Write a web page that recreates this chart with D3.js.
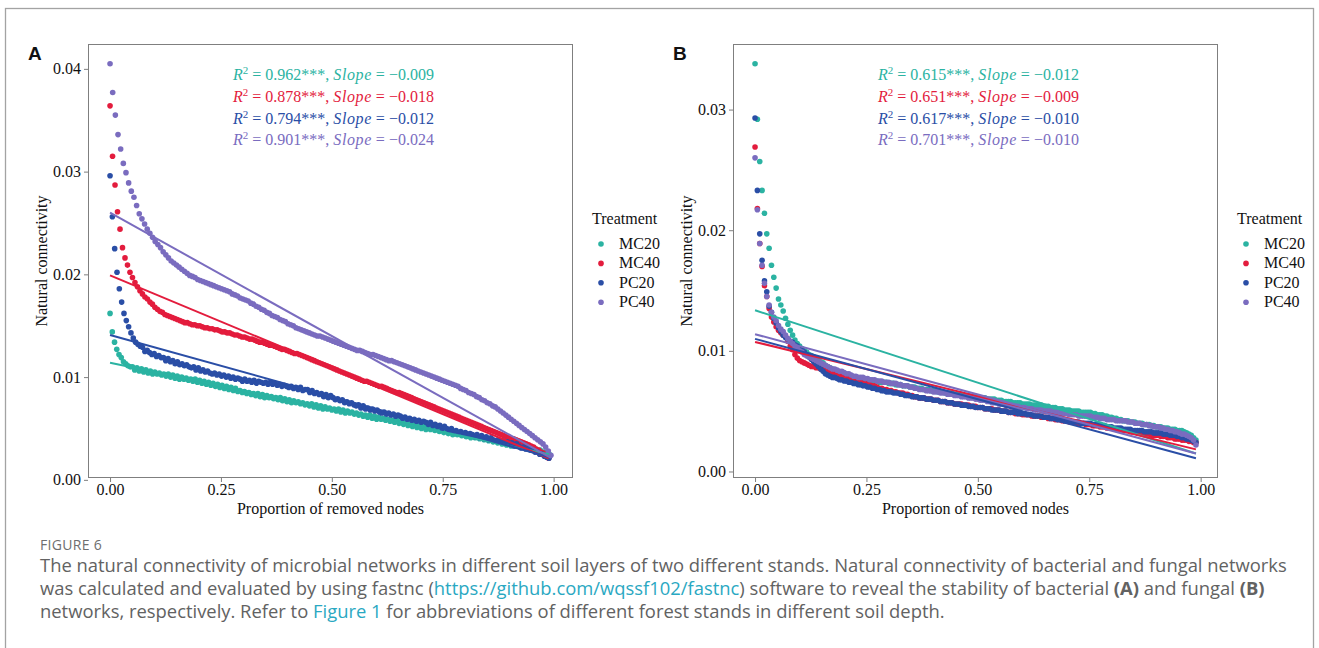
<!DOCTYPE html>
<html>
<head>
<meta charset="utf-8">
<script src="https://cdn.jsdelivr.net/npm/d3@7"></script>
<style>
  body { margin: 0; background: #fff; }
  svg { display: block; }
</style>
</head>
<body>
<svg id="fig" width="1319" height="648"></svg>
<script>
// ---------- data ----------
const treatments = ["MC20", "MC40", "PC20", "PC40"];
const seriesColors = ["#2bb3a2", "#e31c3d", "#2a4ea6", "#7a6cbf"];
const xTicks = [0, 0.25, 0.5, 0.75, 1];
const yTicksA = [0, 0.01, 0.02, 0.03, 0.04];
const yTicksB = [0, 0.01, 0.02, 0.03];

// Panel A (bacterial networks): total node count per network and
// natural connectivity after removing i nodes (i = 0, 1, 2, ...)
const nodesA = [198, 178, 191, 167];
const connA_MC20 = [
  .0162,.0144,.0134,.0127,.0122,.0119,.0115,.0113,.0111,.0110,
  .0110,.0107,.0109,.0106,.0108,.0105,.0107,.0104,.0106,.0103,
  .0105,.0103,.0104,.0102,.0103,.0101,.0103,.0100,.0102,.0099,
  .0101,.0098,.0100,.0098,.0099,.0097,.0098,.0096,.0098,.0095,
  .0097,.0094,.0096,.0093,.0095,.0092,.0094,.0091,.0093,.0090,
  .0092,.0089,.0091,.0088,.0090,.0087,.0089,.0086,.0087,.0085,
  .0086,.0084,.0085,.0083,.0084,.0082,.0084,.0081,.0083,.0080,
  .0082,.0080,.0081,.0079,.0080,.0078,.0080,.0077,.0079,.0076,
  .0078,.0075,.0077,.0075,.0076,.0074,.0075,.0073,.0074,.0072,
  .0074,.0071,.0073,.0070,.0072,.0069,.0071,.0069,.0070,.0068,
  .0069,.0067,.0069,.0066,.0068,.0065,.0067,.0065,.0066,.0064,
  .0065,.0063,.0064,.0062,.0063,.0061,.0063,.0060,.0062,.0059,
  .0061,.0059,.0060,.0058,.0059,.0057,.0058,.0056,.0058,.0055,
  .0057,.0054,.0056,.0053,.0055,.0052,.0054,.0051,.0053,.0050,
  .0052,.0049,.0051,.0049,.0050,.0048,.0049,.0047,.0048,.0046,
  .0048,.0045,.0047,.0044,.0046,.0044,.0045,.0043,.0045,.0042,
  .0044,.0041,.0043,.0041,.0042,.0040,.0041,.0039,.0040,.0038,
  .0039,.0037,.0038,.0036,.0037,.0035,.0037,.0034,.0036,.0033,
  .0035,.0033,.0034,.0032,.0033,.0031,.0032,.0030,.0031,.0029,
  .0030,.0028,.0029,.0027,.0027,.0026,.0025
];
const connA_MC40 = [
  .0364,.0315,.0287,.0261,.0244,.0226,.0216,.0209,.0202,.0197,
  .0192,.0188,.0184,.0181,.0178,.0176,.0173,.0171,.0168,.0166,
  .0164,.0163,.0161,.0160,.0159,.0158,.0157,.0156,.0155,.0154,
  .0153,.0153,.0152,.0151,.0151,.0150,.0150,.0149,.0148,.0148,
  .0147,.0147,.0146,.0146,.0145,.0144,.0144,.0143,.0143,.0142,
  .0141,.0141,.0140,.0139,.0139,.0138,.0137,.0137,.0136,.0135,
  .0134,.0134,.0133,.0132,.0131,.0131,.0130,.0129,.0128,.0127,
  .0127,.0126,.0125,.0124,.0123,.0123,.0122,.0121,.0120,.0119,
  .0118,.0117,.0116,.0115,.0114,.0113,.0112,.0111,.0110,.0109,
  .0108,.0107,.0106,.0105,.0104,.0103,.0102,.0101,.0100,.0099,
  .0098,.0097,.0096,.0096,.0095,.0094,.0093,.0092,.0091,.0091,
  .0090,.0089,.0088,.0087,.0086,.0085,.0085,.0084,.0083,.0082,
  .0081,.0080,.0079,.0078,.0077,.0076,.0075,.0074,.0073,.0072,
  .0071,.0070,.0069,.0068,.0067,.0066,.0065,.0064,.0063,.0062,
  .0061,.0060,.0059,.0058,.0057,.0056,.0055,.0054,.0053,.0052,
  .0051,.0050,.0049,.0048,.0047,.0046,.0045,.0044,.0043,.0042,
  .0041,.0040,.0040,.0039,.0038,.0037,.0036,.0035,.0034,.0033,
  .0032,.0030,.0029,.0027,.0026,.0024,.0021
];
const connA_PC20 = [
  .0296,.0256,.0225,.0202,.0186,.0173,.0162,.0155,.0149,.0143,
  .0138,.0134,.0132,.0130,.0129,.0125,.0126,.0124,.0122,.0123,
  .0120,.0121,.0119,.0119,.0116,.0118,.0115,.0116,.0113,.0115,
  .0112,.0113,.0111,.0112,.0110,.0109,.0110,.0107,.0109,.0106,
  .0107,.0105,.0106,.0104,.0103,.0104,.0102,.0103,.0101,.0102,
  .0100,.0101,.0099,.0100,.0098,.0099,.0098,.0096,.0098,.0096,
  .0097,.0095,.0097,.0094,.0096,.0095,.0094,.0095,.0093,.0095,
  .0093,.0094,.0092,.0093,.0091,.0092,.0091,.0090,.0091,.0089,
  .0090,.0088,.0090,.0087,.0088,.0088,.0085,.0087,.0084,.0085,
  .0083,.0084,.0081,.0083,.0080,.0082,.0080,.0078,.0079,.0077,
  .0078,.0075,.0076,.0074,.0075,.0073,.0072,.0073,.0070,.0072,
  .0069,.0070,.0068,.0069,.0067,.0068,.0066,.0065,.0066,.0064,
  .0065,.0063,.0064,.0062,.0063,.0062,.0060,.0061,.0059,.0060,
  .0058,.0059,.0057,.0058,.0056,.0057,.0056,.0054,.0056,.0053,
  .0054,.0052,.0053,.0050,.0052,.0050,.0048,.0050,.0047,.0048,
  .0046,.0047,.0045,.0046,.0044,.0045,.0044,.0042,.0044,.0041,
  .0043,.0040,.0042,.0039,.0041,.0039,.0038,.0039,.0037,.0038,
  .0036,.0037,.0035,.0036,.0033,.0035,.0033,.0031,.0032,.0030,
  .0031,.0029,.0029,.0027,.0027,.0025,.0025,.0023,.0022,.0021
];
const connA_PC40 = [
  .0405,.0377,.0355,.0336,.0322,.0308,.0299,.0289,.0281,.0275,
  .0267,.0259,.0254,.0249,.0244,.0240,.0236,.0232,.0229,.0226,
  .0222,.0219,.0216,.0213,.0211,.0209,.0207,.0205,.0203,.0201,
  .0199,.0198,.0197,.0195,.0194,.0193,.0192,.0191,.0190,.0189,
  .0188,.0187,.0186,.0185,.0184,.0183,.0181,.0180,.0179,.0177,
  .0176,.0175,.0174,.0172,.0171,.0169,.0168,.0166,.0165,.0163,
  .0162,.0160,.0159,.0158,.0156,.0155,.0154,.0152,.0151,.0150,
  .0148,.0147,.0146,.0145,.0144,.0143,.0142,.0141,.0140,.0140,
  .0139,.0138,.0137,.0136,.0135,.0134,.0133,.0132,.0131,.0130,
  .0129,.0128,.0127,.0126,.0126,.0125,.0124,.0123,.0122,.0122,
  .0121,.0120,.0119,.0118,.0117,.0116,.0116,.0115,.0114,.0113,
  .0112,.0111,.0110,.0109,.0108,.0107,.0106,.0105,.0104,.0103,
  .0102,.0101,.0100,.0099,.0098,.0097,.0096,.0095,.0094,.0093,
  .0092,.0091,.0089,.0088,.0087,.0085,.0084,.0083,.0081,.0080,
  .0078,.0077,.0075,.0074,.0072,.0071,.0069,.0067,.0065,.0063,
  .0061,.0059,.0057,.0055,.0053,.0051,.0049,.0047,.0045,.0043,
  .0041,.0039,.0037,.0035,.0032,.0028,.0024
];
// linear fits for panel A
const fitInterceptA = [0.0114, 0.0199, 0.0141, 0.0260];
const fitSlopeA = [-0.009, -0.018, -0.012, -0.024];
const r2A = [0.962, 0.878, 0.794, 0.901];

// Panel B (fungal networks)
const nodesB = [190, 190, 190, 190];
const connB_MC20 = [
  .0338,.0292,.0257,.0233,.0214,.0197,.0185,.0171,.0161,.0152,
  .0143,.0138,.0133,.0127,.0122,.0117,.0113,.0109,.0106,.0104,
  .0102,.0100,.0099,.0097,.0096,.0095,.0093,.0092,.0091,.0090,
  .0088,.0087,.0086,.0085,.0084,.0083,.0082,.0082,.0081,.0080,
  .0080,.0079,.0078,.0078,.0077,.0077,.0077,.0076,.0076,.0076,
  .0075,.0075,.0075,.0074,.0074,.0074,.0074,.0073,.0073,.0073,
  .0072,.0072,.0072,.0071,.0071,.0071,.0070,.0070,.0070,.0069,
  .0069,.0069,.0068,.0068,.0068,.0067,.0067,.0067,.0066,.0066,
  .0066,.0065,.0065,.0065,.0065,.0064,.0064,.0064,.0064,.0063,
  .0063,.0063,.0062,.0062,.0062,.0062,.0061,.0061,.0061,.0060,
  .0060,.0060,.0060,.0059,.0059,.0059,.0058,.0058,.0058,.0058,
  .0057,.0057,.0057,.0057,.0056,.0056,.0056,.0056,.0055,.0055,
  .0055,.0055,.0055,.0054,.0054,.0054,.0053,.0053,.0053,.0052,
  .0052,.0052,.0051,.0051,.0051,.0050,.0050,.0050,.0050,.0049,
  .0049,.0049,.0049,.0049,.0048,.0048,.0047,.0047,.0047,.0046,
  .0046,.0045,.0045,.0044,.0044,.0043,.0043,.0042,.0042,.0042,
  .0041,.0041,.0041,.0040,.0040,.0040,.0039,.0039,.0039,.0038,
  .0038,.0037,.0037,.0037,.0036,.0036,.0036,.0035,.0035,.0035,
  .0034,.0034,.0034,.0033,.0032,.0031,.0030,.0028,.0026
];
const connB_MC40 = [
  .0269,.0218,.0189,.0170,.0154,.0145,.0135,.0128,.0124,.0120,
  .0117,.0115,.0113,.0112,.0108,.0104,.0101,.0097,.0094,.0092,
  .0091,.0090,.0089,.0088,.0087,.0087,.0086,.0086,.0085,.0085,
  .0084,.0083,.0083,.0082,.0081,.0081,.0080,.0079,.0079,.0078,
  .0077,.0077,.0076,.0075,.0074,.0074,.0073,.0073,.0072,.0072,
  .0071,.0071,.0070,.0069,.0069,.0068,.0068,.0067,.0067,.0066,
  .0066,.0065,.0065,.0065,.0064,.0064,.0063,.0063,.0062,.0062,
  .0061,.0061,.0061,.0060,.0060,.0060,.0059,.0059,.0059,.0058,
  .0058,.0058,.0057,.0057,.0057,.0056,.0056,.0056,.0056,.0055,
  .0055,.0055,.0054,.0054,.0054,.0053,.0053,.0053,.0052,.0052,
  .0052,.0052,.0051,.0051,.0051,.0050,.0050,.0050,.0049,.0049,
  .0049,.0048,.0048,.0048,.0047,.0047,.0047,.0047,.0046,.0046,
  .0046,.0046,.0045,.0045,.0045,.0044,.0044,.0044,.0043,.0043,
  .0043,.0042,.0042,.0042,.0041,.0041,.0041,.0040,.0040,.0040,
  .0040,.0039,.0039,.0039,.0038,.0038,.0038,.0037,.0037,.0037,
  .0036,.0036,.0036,.0035,.0035,.0035,.0035,.0034,.0034,.0034,
  .0033,.0033,.0033,.0032,.0032,.0032,.0031,.0031,.0031,.0030,
  .0030,.0030,.0030,.0029,.0029,.0029,.0028,.0028,.0028,.0027,
  .0027,.0027,.0026,.0026,.0026,.0025,.0025,.0024,.0024
];
const connB_PC20 = [
  .0293,.0233,.0197,.0175,.0158,.0149,.0137,.0132,.0127,.0123,
  .0119,.0116,.0113,.0111,.0110,.0108,.0107,.0105,.0104,.0102,
  .0101,.0099,.0097,.0095,.0093,.0091,.0089,.0087,.0085,.0083,
  .0081,.0080,.0079,.0078,.0078,.0077,.0076,.0076,.0075,.0075,
  .0074,.0074,.0073,.0073,.0072,.0072,.0071,.0071,.0070,.0070,
  .0069,.0069,.0068,.0068,.0067,.0067,.0066,.0066,.0066,.0065,
  .0065,.0065,.0064,.0064,.0063,.0063,.0063,.0062,.0062,.0062,
  .0061,.0061,.0061,.0060,.0060,.0060,.0059,.0059,.0059,.0058,
  .0058,.0058,.0057,.0057,.0057,.0056,.0056,.0056,.0055,.0055,
  .0055,.0054,.0054,.0054,.0053,.0053,.0053,.0053,.0052,.0052,
  .0052,.0051,.0051,.0051,.0051,.0050,.0050,.0050,.0049,.0049,
  .0049,.0049,.0048,.0048,.0048,.0048,.0047,.0047,.0047,.0046,
  .0046,.0046,.0046,.0045,.0045,.0045,.0044,.0044,.0044,.0043,
  .0043,.0043,.0042,.0042,.0042,.0041,.0041,.0041,.0041,.0040,
  .0040,.0040,.0040,.0040,.0039,.0039,.0039,.0038,.0038,.0038,
  .0037,.0037,.0037,.0036,.0036,.0036,.0036,.0035,.0035,.0035,
  .0035,.0034,.0034,.0034,.0034,.0034,.0033,.0033,.0033,.0033,
  .0032,.0032,.0032,.0032,.0031,.0031,.0031,.0030,.0030,.0030,
  .0029,.0029,.0028,.0028,.0027,.0027,.0026,.0025,.0024
];
const connB_PC40 = [
  .0260,.0217,.0189,.0171,.0156,.0145,.0138,.0132,.0128,.0125,
  .0121,.0118,.0116,.0113,.0110,.0108,.0106,.0104,.0102,.0100,
  .0099,.0097,.0096,.0095,.0094,.0093,.0092,.0091,.0090,.0089,
  .0088,.0087,.0086,.0085,.0085,.0084,.0083,.0083,.0082,.0081,
  .0081,.0080,.0079,.0079,.0078,.0078,.0078,.0077,.0077,.0076,
  .0076,.0076,.0075,.0075,.0075,.0074,.0074,.0074,.0073,.0073,
  .0073,.0072,.0072,.0071,.0071,.0071,.0070,.0070,.0069,.0069,
  .0068,.0068,.0068,.0067,.0067,.0067,.0066,.0066,.0066,.0065,
  .0065,.0065,.0064,.0064,.0064,.0063,.0063,.0063,.0062,.0062,
  .0062,.0061,.0061,.0061,.0060,.0060,.0059,.0059,.0059,.0058,
  .0058,.0057,.0057,.0057,.0056,.0056,.0056,.0055,.0055,.0055,
  .0054,.0054,.0054,.0053,.0053,.0053,.0052,.0052,.0052,.0051,
  .0051,.0051,.0051,.0050,.0050,.0050,.0050,.0049,.0049,.0049,
  .0048,.0048,.0048,.0048,.0047,.0047,.0047,.0047,.0046,.0046,
  .0046,.0046,.0046,.0046,.0045,.0045,.0045,.0044,.0044,.0044,
  .0043,.0043,.0043,.0043,.0042,.0042,.0042,.0042,.0042,.0041,
  .0041,.0041,.0040,.0040,.0040,.0039,.0039,.0039,.0038,.0038,
  .0037,.0037,.0037,.0036,.0036,.0035,.0035,.0034,.0034,.0033,
  .0033,.0032,.0031,.0031,.0030,.0029,.0028,.0026,.0022
];
const fitInterceptB = [0.01336, 0.01074, 0.01099, 0.01138];
const fitSlopeB = [-0.012, -0.009, -0.010, -0.010];
const r2B = [0.615, 0.651, 0.617, 0.701];

// ---------- drawing ----------
const svg = d3.select("#fig");
const SERIF = '"Liberation Serif", "Times New Roman", serif';
const SANS = '"Liberation Sans", Arial, sans-serif';
const CAPTION_FONT = '"Open Sans", Lato, sans-serif';
const AXIS_GREY = "#7f7f7f";
const POINT_R = 2.8;

// outer card frame
svg.append("rect")
  .attr("x", 5.5).attr("y", 8.5).attr("width", 1308).attr("height", 700)
  .attr("fill", "none").attr("stroke", "#a3a3a3").attr("stroke-width", 1.3);

const fmt3 = d3.format(".3f");
const fmt2 = d3.format(".2f");

function drawPanel(opt) {
  const W = 485, H = 434;
  const g = svg.append("g").attr("transform", `translate(${opt.left},${opt.top})`);

  const series = treatments.map((name, k) => {
    const pts = opt.values[k].map((v, i) => ({ x: i / opt.nodes[k], y: v }));
    const xEnd = pts[pts.length - 1].x;
    return {
      name, color: seriesColors[k], pts,
      fit: [{ x: 0, y: opt.intercepts[k] }, { x: xEnd, y: opt.intercepts[k] + opt.slopes[k] * xEnd }]
    };
  });

  // 5% expansion of the data range on both axes
  const allX = series.flatMap(s => s.pts.map(p => p.x));
  const allY = series.flatMap(s => s.pts.map(p => p.y).concat(s.fit.map(p => p.y)));
  const [x0, x1] = d3.extent(allX), [y0, y1] = d3.extent(allY);
  const xp = (x1 - x0) * 0.05, yp = (y1 - y0) * 0.05;
  const x = d3.scaleLinear().domain([x0 - xp, x1 + xp]).range([0, W]);
  const y = d3.scaleLinear().domain([y0 - yp, y1 + yp]).range([H, 0]);

  // points, one layer per treatment
  const clip = "clip" + opt.label;
  g.append("clipPath").attr("id", clip).append("rect").attr("width", W).attr("height", H);
  const plot = g.append("g").attr("clip-path", `url(#${clip})`);
  series.forEach(s => {
    plot.append("g").selectAll("circle").data(s.pts).join("circle")
      .attr("cx", d => x(d.x)).attr("cy", d => y(d.y)).attr("r", POINT_R)
      .attr("fill", s.color);
  });
  // fitted lines
  const line = d3.line().x(d => x(d.x)).y(d => y(d.y));
  series.forEach(s => {
    plot.append("path").attr("d", line(s.fit))
      .attr("fill", "none").attr("stroke", s.color).attr("stroke-width", 2);
  });

  // panel border
  g.append("rect").attr("x", 0.5).attr("y", 0.5).attr("width", W - 1).attr("height", H - 1)
    .attr("fill", "none").attr("stroke", AXIS_GREY).attr("stroke-width", 1);

  // axes
  const ax = g.append("g").attr("transform", `translate(0,${H})`)
    .call(d3.axisBottom(x).tickValues(xTicks).tickFormat(fmt2).tickSize(4).tickPadding(2));
  const ay = g.append("g")
    .call(d3.axisLeft(y).tickValues(opt.yTicks).tickFormat(fmt2).tickSize(4).tickPadding(3));
  [ax, ay].forEach(a => {
    a.select(".domain").remove();
    a.selectAll(".tick line").attr("stroke", AXIS_GREY);
    a.selectAll(".tick text").attr("fill", "#111").style("font-family", SERIF).style("font-size", "16px");
  });

  // axis titles
  g.append("text").attr("x", W / 2).attr("y", H + 36).attr("text-anchor", "middle")
    .style("font-family", SERIF).style("font-size", "16px").attr("fill", "#111")
    .text("Proportion of removed nodes");
  g.append("text").attr("transform", `translate(${-41},${H / 2}) rotate(-90)`)
    .attr("text-anchor", "middle")
    .style("font-family", SERIF).style("font-size", "16px").attr("fill", "#111")
    .text("Natural connectivity");

  // panel letter
  svg.append("text").attr("x", opt.left - 60).attr("y", opt.top + 16)
    .style("font-family", SANS).style("font-weight", "bold").style("font-size", "19px")
    .attr("fill", "#111").text(opt.label);

  // fit statistics
  series.forEach((s, k) => {
    const t = g.append("text").attr("x", 145).attr("y", 36 + k * 21.8)
      .style("font-family", SERIF).style("font-size", "16px").attr("fill", s.color);
    t.append("tspan").style("font-style", "italic").text("R");
    t.append("tspan").attr("dy", -6).style("font-size", "11px").text("2");
    t.append("tspan").attr("dy", 6).text(` = ${fmt3(opt.r2[k])}***, `);
    t.append("tspan").style("font-style", "italic").style("letter-spacing", "0.6px").text("Slope");
    t.append("tspan").text(` = ${fmt3(opt.slopes[k])}`);
  });

  // legend
  const lg = svg.append("g").attr("transform", `translate(${opt.left + W + 19},${opt.top + 180})`);
  lg.append("text").attr("x", 0).attr("y", 0)
    .style("font-family", SERIF).style("font-size", "16px").attr("fill", "#111").text("Treatment");
  series.forEach((s, k) => {
    const row = lg.append("g").attr("transform", `translate(0,${20 + k * 19.4})`);
    row.append("circle").attr("cx", 9).attr("cy", 0).attr("r", POINT_R).attr("fill", s.color);
    row.append("text").attr("x", 27).attr("y", 5)
      .style("font-family", SERIF).style("font-size", "16px").attr("fill", "#111").text(s.name);
  });
}

drawPanel({
  label: "A", left: 88, top: 44, nodes: nodesA,
  values: [connA_MC20, connA_MC40, connA_PC20, connA_PC40],
  intercepts: fitInterceptA, slopes: fitSlopeA, r2: r2A, yTicks: yTicksA
});
drawPanel({
  label: "B", left: 733, top: 44, nodes: nodesB,
  values: [connB_MC20, connB_MC40, connB_PC20, connB_PC40],
  intercepts: fitInterceptB, slopes: fitSlopeB, r2: r2B, yTicks: yTicksB
});

// ---------- caption ----------
const LINK = "#2aa8c2", CAP = "#626262";
svg.append("text").attr("x", 40).attr("y", 550)
  .style("font-family", CAPTION_FONT).style("font-size", "14px").attr("fill", "#6e6e6e")
  .style("letter-spacing", "0.3px").text("FIGURE 6");

const captionLines = [
  [["The natural connectivity of microbial networks in different soil layers of two different stands. Natural connectivity of bacterial and fungal networks"]],
  [["was calculated and evaluated by using fastnc ("], ["https://github.com/wqssf102/fastnc", "link"],
   [") software to reveal the stability of bacterial "], ["(A)", "bold"], [" and fungal "], ["(B)", "bold"]],
  [["networks, respectively. Refer to "], ["Figure 1", "link"],
   [" for abbreviations of different forest stands in different soil depth."]]
];
captionLines.forEach((parts, li) => {
  const t = svg.append("text").attr("x", 40).attr("y", 572 + li * 23)
    .style("font-family", CAPTION_FONT).style("font-size", "18.4px").attr("fill", CAP)
    .attr("xml:space", "preserve");
  parts.forEach(([str, kind]) => {
    const ts = t.append("tspan").text(str);
    if (kind === "link") ts.attr("fill", LINK);
    if (kind === "bold") ts.style("font-weight", "bold");
  });
});
</script>
</body>
</html>
